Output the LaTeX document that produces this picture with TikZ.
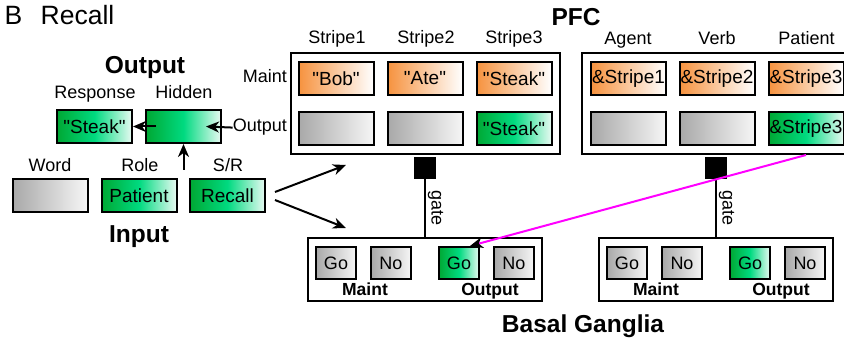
\documentclass[tikz,border=0pt]{standalone}
\usepackage{fontspec}
\setmainfont{Liberation Sans}
\usetikzlibrary{arrows.meta, calc, positioning}
\definecolor{pfcOrange}{RGB}{246,146,62}
\definecolor{actGreen}{RGB}{0,168,52}
\definecolor{actBright}{RGB}{0,218,128}
\definecolor{actPale}{RGB}{232,250,242}
\definecolor{offGray}{RGB}{168,168,168}
\definecolor{offPale}{RGB}{246,246,246}
\definecolor{outMagenta}{RGB}{255,0,255}
\tikzset{
    unitBox/.style={draw, line width=2pt, minimum width=75pt, minimum height=33pt, inner sep=0pt, font=\fontsize{19}{22}\selectfont},
    unitOrange/.style={unitBox, left color=pfcOrange, right color=white},
    unitGreen/.style={unitBox, left color=actGreen, right color=actPale, middle color=actBright},
    unitGray/.style={unitBox, left color=offGray, right color=offPale},
    bgUnit/.style={minimum width=40pt, minimum height=32pt, font=\fontsize{18}{21}\selectfont},
    panelFrame/.style={draw, line width=2pt, inner sep=0pt},
    gateSq/.style={fill=black, minimum size=22pt, inner sep=0pt},
    lbl/.style={font=\fontsize{18}{21}\selectfont, inner sep=0pt, anchor=base},
    headLbl/.style={font=\bfseries\fontsize{24.5}{28}\selectfont, inner sep=0pt, anchor=base},
    subHead/.style={font=\bfseries\fontsize{17.5}{20}\selectfont, inner sep=0pt, anchor=base},
    wire/.style={-{Stealth[length=13pt, width=11pt, inset=4pt]}, line width=2pt},
}
\newcommand{\qword}[1]{\textquotedbl#1\textquotedbl}
% one basal ganglia panel: #1 name, #2 left edge
\newcommand{\drawBG}[2]{
    \node[panelFrame, minimum width=234pt, minimum height=63pt] (#1) at (#2+118, 269.5) {};
    \node[unitGray, bgUnit] (#1goM) at (#2+29, 263) {Go};
    \node[unitGray, bgUnit] (#1noM) at (#2+84, 263) {No};
    \node[unitGreen, bgUnit] (#1goO) at (#2+152, 263) {Go};
    \node[unitGray, bgUnit] (#1noO) at (#2+207, 263) {No};
    \node[subHead] (#1maint) at (#2+58, 296) {Maint};
    \node[subHead] (#1out) at (#2+183, 296) {Output};
}

\begin{document}
\begin{tikzpicture}[x=1pt, y=-1pt]
    \useasboundingbox (0,0) rectangle (844,339);

    \node[lbl, font=\fontsize{26.5}{30}\selectfont] (panel) at (13.5,25) {B};
    \node[lbl, font=\fontsize{26.5}{30}\selectfont] (title) at (77.5,25) {Recall};

    % output side
    \node[headLbl] (outHead) at (145,74) {Output};
    \node[lbl] (respLbl) at (95,99) {Response};
    \node[lbl] (hidLbl) at (184,99) {Hidden};
    \node[unitGreen] (resp) at (94.5,126.5) {\qword{Steak}};
    \node[unitGreen] (hid) at (183.5,126.5) {};

    % input side
    \node[lbl] (wordLbl) at (50,172) {Word};
    \node[lbl] (roleLbl) at (140,172) {Role};
    \node[lbl] (srLbl) at (228,172) {S/R};
    \node[unitGray] (word) at (50,196) {};
    \node[unitGreen] (role) at (139,196) {Patient};
    \node[unitGreen] (sr) at (227.5,196) {Recall};
    \node[headLbl] (inHead) at (139,243) {Input};

    % PFC
    \node[panelFrame, minimum width=269pt, minimum height=101pt] (pfcA) at (425.5,103.5) {};
    \node[panelFrame, minimum width=269pt, minimum height=101pt] (pfcB) at (716.5,103.5) {};
    \node[headLbl] (pfcHead) at (576,26) {PFC};
    \node[lbl] (colA1) at (337,44) {Stripe1};
    \node[lbl] (colA2) at (426,44) {Stripe2};
    \node[lbl] (colA3) at (514,44) {Stripe3};
    \node[lbl] (colB1) at (628,45) {Agent};
    \node[lbl] (colB2) at (717,45) {Verb};
    \node[lbl] (colB3) at (806.5,45) {Patient};
    \node[lbl, anchor=base east] (maintLbl) at (287,83) {Maint};
    \node[lbl, anchor=base east] (outLbl) at (287,132) {Output};

    \node[unitOrange] (pA1) at (336,78.5) {\qword{Bob}};
    \node[unitOrange] (pA2) at (425,78.5) {\qword{Ate}};
    \node[unitOrange] (pA3) at (514,78.5) {\qword{Steak}};
    \node[unitGray] (qA1) at (336,128.5) {};
    \node[unitGray] (qA2) at (425,128.5) {};
    \node[unitGreen] (qA3) at (514,128.5) {\qword{Steak}};
    \node[unitOrange] (pB1) at (628.5,78.5) {\&Stripe1};
    \node[unitOrange] (pB2) at (717,78.5) {\&Stripe2};
    \node[unitOrange] (pB3) at (806,78.5) {\&Stripe3};
    \node[unitGray] (qB1) at (628.5,128.5) {};
    \node[unitGray] (qB2) at (717,128.5) {};
    \node[unitGreen] (qB3) at (806,128.5) {\&Stripe3};

    % basal ganglia
    \node[gateSq] (gateA) at (425,168) {};
    \node[gateSq] (gateB) at (716,168) {};
    \drawBG{bgA}{307}
    \drawBG{bgB}{598}
    \node[headLbl] (bgHead) at (583,333) {Basal Ganglia};

    \draw[line width=2pt] (gateA) -- node[midway, rotate=-90, anchor=south, inner sep=2pt, font=\fontsize{18}{20}\selectfont] {gate} (bgA);
    \draw[line width=2pt] (gateB) -- node[midway, rotate=-90, anchor=south, inner sep=2pt, font=\fontsize{18}{20}\selectfont] {gate} (bgB);

    \draw[wire] ([xshift=11pt]hid.west) -- (resp.east);
    \draw[wire] (outLbl.west) -- ([xshift=-16pt]hid.east);
    \draw[wire] ([yshift=-26pt]hid.south) -- (hid.south);
    \draw[wire] ([xshift=9pt, yshift=4pt]sr.east) -- ([xshift=56pt, yshift=-10pt]pfcA.south west);
    \draw[wire] ([xshift=9pt, yshift=-4pt]sr.east) -- ([xshift=39pt, yshift=9pt]bgA.north west);

    \draw[line width=2pt, outMagenta, -{Stealth[black, length=13pt, width=11pt, inset=4pt]}] (qB3.south |- pfcB.south) -- ([xshift=11pt]bgAgoO.north);

\end{tikzpicture}
\end{document}
